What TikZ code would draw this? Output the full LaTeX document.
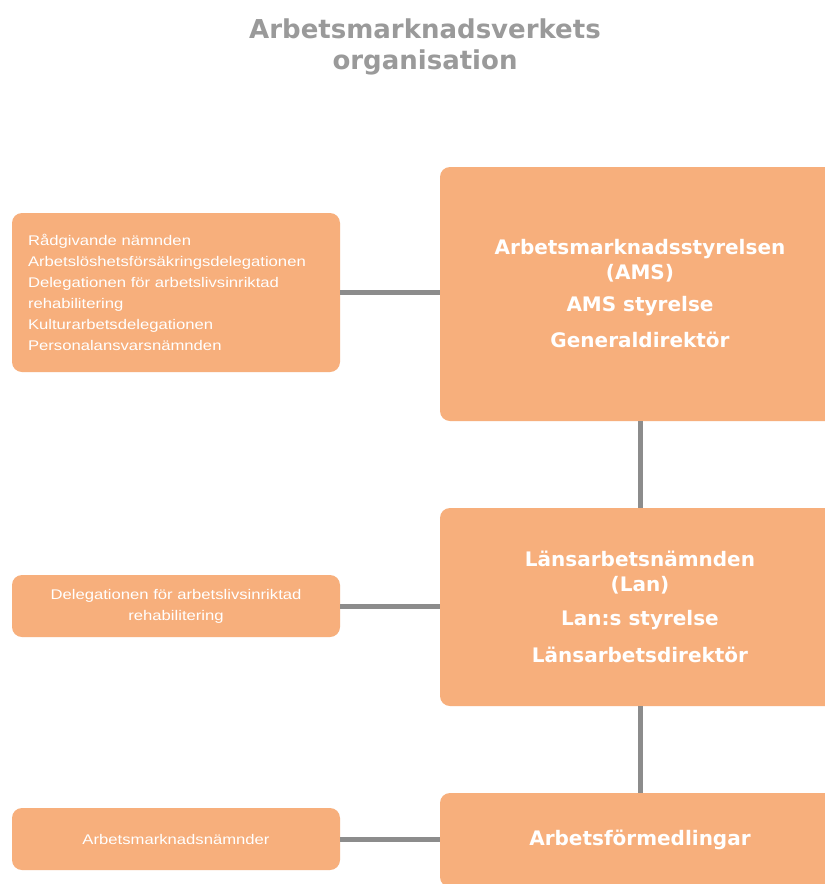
\documentclass[tikz,border=0pt]{standalone}
\usepackage{fontspec}
\setmainfont{DejaVu Sans}
\newfontfamily\smallfont[FakeStretch=1.19]{Liberation Sans}
\definecolor{boxor}{HTML}{F7AF7C}
\definecolor{linegr}{HTML}{8C8C8C}
\definecolor{titgr}{HTML}{9A9A9A}
\begin{document}
\begin{tikzpicture}[x=1pt,y=-1pt,
  box/.style={fill=boxor, rounded corners=10pt, draw=none, inner sep=0pt, text=white},
  bigbox/.style={box, minimum width=400pt, font=\bfseries\fontsize{20}{25}\selectfont, align=center},
  smallbox/.style={box, minimum width=328pt, font=\smallfont\fontsize{14}{21}\selectfont},
  conn/.style={draw=linegr, line width=5pt}]
\useasboundingbox (0,0) rectangle (825,884);
\clip (0,0) rectangle (825,884);
\fill[white] (0,0) rectangle (825,884);
\node[font=\bfseries\fontsize{26}{31}\selectfont, text=titgr, align=center] (title) at (425,47)
  {Arbetsmarknadsverkets\\organisation};
\node[bigbox, minimum height=254pt] (b1) at (640,294)
  {Arbetsmarknadsstyrelsen\\(AMS)\\[7pt]AMS styrelse\\[11pt]Generaldirektör};
\node[bigbox, minimum height=198pt] (b2) at (640,607)
  {Länsarbetsnämnden\\(Lan)\\[9pt]Lan:s styrelse\\[12pt]Länsarbetsdirektör};
\node[bigbox, minimum height=94pt] (b3) at (640,840) {Arbetsförmedlingar};
\node[smallbox, minimum height=159pt, text width=296pt, align=left] (l1) at (176,292.5)
  {Rådgivande nämnden\\Arbetslöshetsförsäkringsdelegationen\\Delegationen för arbetslivsinriktad\\rehabilitering\\Kulturarbetsdelegationen\\Personalansvarsnämnden};
\node[smallbox, minimum height=62pt, align=center] (l2) at (176,606)
  {Delegationen för arbetslivsinriktad\\rehabilitering};
\node[smallbox, minimum height=62pt, align=center] (l3) at (176,839) {Arbetsmarknadsnämnder};
\draw[conn] (l1.east) -- (l1.east -| b1.west);
\draw[conn] (l2.east) -- (l2.east -| b2.west);
\draw[conn] (l3.east) -- (l3.east -| b3.west);
\draw[conn] (b1.south) -- (b2.north);
\draw[conn] (b2.south) -- (b3.north);
\end{tikzpicture}
\end{document}
